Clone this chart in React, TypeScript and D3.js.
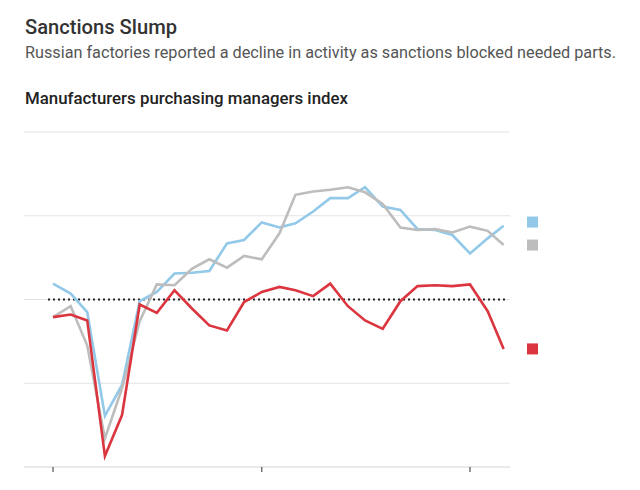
import React from "react";
import * as d3 from "d3";

const months = [
  "2020-01","2020-02","2020-03","2020-04","2020-05","2020-06","2020-07","2020-08","2020-09","2020-10","2020-11","2020-12",
  "2021-01","2021-02","2021-03","2021-04","2021-05","2021-06","2021-07","2021-08","2021-09","2021-10","2021-11","2021-12",
  "2022-01","2022-02","2022-03",
];

const usValues = [51.9,50.7,48.5,36.1,39.8,49.8,50.9,53.1,53.2,53.4,56.7,57.1,59.2,58.6,59.1,60.5,62.1,62.1,63.4,61.1,60.7,58.4,58.3,57.7,55.5,57.3,58.8];
const euroValues = [47.9,49.2,44.5,33.4,39.4,47.4,51.8,51.7,53.7,54.8,53.8,55.2,54.8,57.9,62.5,62.9,63.1,63.4,62.8,61.4,58.6,58.3,58.4,58.0,58.7,58.2,56.5];
const russiaValues = [47.9,48.2,47.5,31.3,36.2,49.4,48.4,51.1,48.9,46.9,46.3,49.7,50.9,51.5,51.1,50.4,51.9,49.2,47.5,46.5,49.8,51.6,51.7,51.6,51.8,48.6,44.1];

const yTicks = [30, 40, 50, 60, 70];
const xTicks = ["2020-01", "2021-01", "2022-01"];
const threshold = 50;

const seriesList = [
  { name: "us", values: usValues, color: "#93c9e8" },
  { name: "euro", values: euroValues, color: "#bdbdbd" },
  { name: "russia", values: russiaValues, color: "#db353f" },
];

const parse = d3.timeParse("%Y-%m");

export default function App() {
  const W = 640, H = 490;
  const x = d3.scaleTime()
    .domain([parse("2020-01")!, parse("2022-01")!])
    .range([53, 470]);
  const y = d3.scaleLinear().domain([30, 70]).range([467, 132]);
  const gridX0 = 24, gridX1 = 510;

  const line = d3.line<number>()
    .x((_, i) => x(parse(months[i])!))
    .y((v) => y(v));

  // legend squares at series ends, pushed up to avoid overlap
  const ends = seriesList.map((s) => ({ ...s, pos: y(s.values[s.values.length - 1]) }));
  const sorted = [...ends].sort((a, b) => b.pos - a.pos);
  for (let i = 1; i < sorted.length; i++) {
    if (sorted[i - 1].pos - sorted[i].pos < 23) sorted[i].pos = sorted[i - 1].pos - 23;
  }

  const font = "Roboto, 'Noto Sans', sans-serif";

  return (
    <div style={{ position: "absolute", left: 0, top: 0 }}>
      <svg width={W} height={H} style={{ display: "block", background: "#fff" }}>
        <text x={25} y={34} fontFamily={font} fontSize={20} fontWeight={500} fill="#333" textLength={152} lengthAdjust="spacingAndGlyphs">
          Sanctions Slump
        </text>
        <text x={25} y={58} fontFamily={font} fontSize={16} fontWeight={400} fill="#555" textLength={591} lengthAdjust="spacingAndGlyphs">
          Russian factories reported a decline in activity as sanctions blocked needed parts.
        </text>
        <text x={25} y={104} fontFamily={font} fontSize={16} fontWeight={500} fill="#222" textLength={323} lengthAdjust="spacingAndGlyphs">
          Manufacturers purchasing managers index
        </text>

        {yTicks.map((t) => (
          <line key={t} x1={gridX0} x2={gridX1} y1={y(t)} y2={y(t)} stroke={t === 30 ? "#d6d6d6" : "#e3e3e3"} strokeWidth={1} />
        ))}
        {xTicks.map((t) => (
          <line key={t} x1={x(parse(t)!)} x2={x(parse(t)!)} y1={y(30)} y2={y(30) + 5} stroke="#333" strokeWidth={1} />
        ))}

        <line x1={48} x2={507} y1={y(threshold)} y2={y(threshold)} stroke="#222" strokeWidth={2.2} strokeDasharray="2 3" />

        {seriesList.map((s) => (
          <path key={s.name} d={line(s.values)!} fill="none" stroke={s.color} strokeWidth={2.6} strokeLinejoin="miter" />
        ))}

        {ends.map((s) => (
          <rect key={s.name} x={527} y={s.pos - 5.5} width={11} height={11} fill={s.color} />
        ))}
      </svg>
    </div>
  );
}
